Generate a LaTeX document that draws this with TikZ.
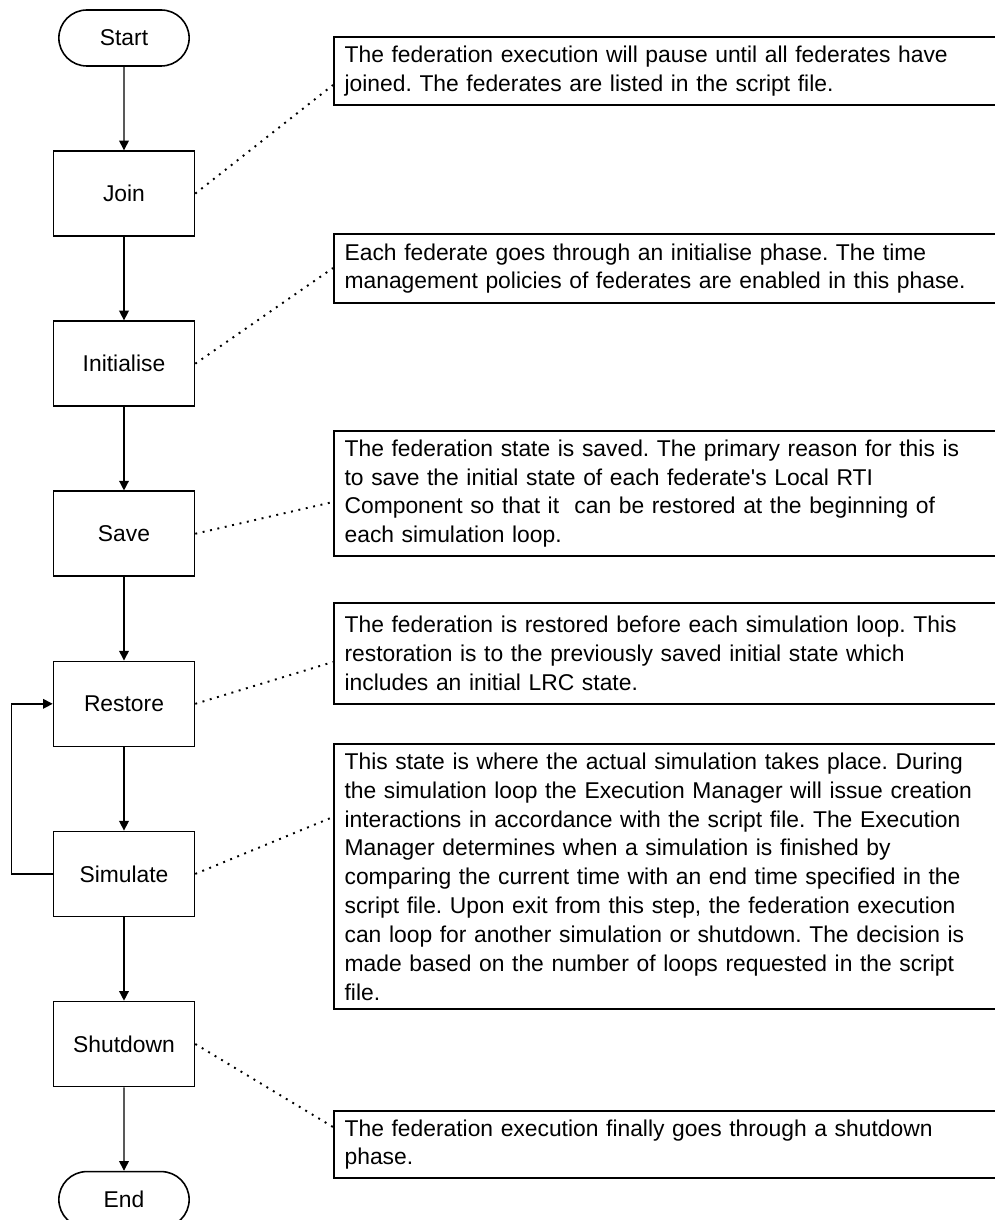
\documentclass[tikz,border=0pt]{standalone}
\usepackage{fontspec}
\setmainfont{Liberation Sans}
\frenchspacing
\usetikzlibrary{shapes.misc,arrows.meta,positioning,calc}
\tikzset{
  basebox/.style={draw=black,line width=0.9pt,align=center,
                  font=\fontsize{13}{16.4}\selectfont},
  stepbox/.style={basebox,rectangle,minimum width=2.82cm,minimum height=1.7cm},
  termbox/.style={basebox,rounded rectangle,minimum width=2.84cm,minimum height=1.12cm},
  notebox/.style={rectangle,draw=black,line width=1.2pt,anchor=north west,
                  align=left,text width=13.2cm,inner xsep=6pt,
                  font=\fontsize{13}{16.4}\selectfont},
  arr/.style={-{Triangle[length=5.5pt,width=5.5pt]},line width=0.8pt},
  dotarr/.style={line width=1.1pt,dash pattern=on 1.1pt off 3.2pt}
}
\begin{document}
\begin{tikzpicture}[node distance=1.67cm]
  \clip (0,0) rectangle (19.9,-24.4);

  \node[termbox] (start) at (2.48,-0.76) {Start};
  \node[stepbox, below=of start] (join) {Join};
  \node[stepbox, below=of join] (init) {Initialise};
  \node[stepbox, below=of init] (save) {Save};
  \node[stepbox, below=of save] (rest) {Restore};
  \node[stepbox, below=of rest] (sim) {Simulate};
  \node[stepbox, below=of sim] (shut) {Shutdown};
  \node[termbox, below=of shut] (end) {End};

  % notes on the right, cut by the page edge
  \node[notebox,minimum height=1.36cm] (njoin) at (6.66,-0.72)
      {The federation execution will pause until all federates have\\
       joined. The federates are listed in the script file.};
  \node[notebox,minimum height=1.38cm] (ninit) at (6.66,-4.66)
      {Each federate goes through an initialise phase. The time\\
       management policies of federates are enabled in this phase.};
  \node[notebox,minimum height=2.5cm] (nsave) at (6.66,-8.6)
      {The federation state is saved. The primary reason for this is\\
       to save the initial state of each federate\textquotesingle s Local RTI\\
       Component so that it\ \ can be restored at the beginning of\\
       each simulation loop.};
  \node[notebox,minimum height=2.02cm] (nrest) at (6.66,-12.04)
      {The federation is restored before each simulation loop. This\\
       restoration is to the previously saved initial state which\\
       includes an initial LRC state.};
  \node[notebox,minimum height=5.3cm] (nsim) at (6.66,-14.86)
      {This state is where the actual simulation takes place. During\\
       the simulation loop the Execution Manager will issue creation\\
       interactions in accordance with the script file. The Execution\\
       Manager determines when a simulation is finished by\\
       comparing the current time with an end time specified in the\\
       script file. Upon exit from this step, the federation execution\\
       can loop for another simulation or shutdown. The decision is\\
       made based on the number of loops requested in the script\\
       file.};
  \node[notebox,minimum height=1.34cm] (nshut) at (6.66,-22.2)
      {The federation execution finally goes through a shutdown\\
       phase.};

  \draw[arr] (start) -- (join);
  \draw[arr] (join) -- (init);
  \draw[arr] (init) -- (save);
  \draw[arr] (save) -- (rest);
  \draw[arr] (rest) -- (sim);
  \draw[arr] (sim) -- (shut);
  \draw[arr] (shut) -- (end);
  \draw[arr] (sim.west) -- ++(-0.82,0) |- (rest.west);

  \draw[dotarr] (join.east) -- ($(njoin.north west)+(0,-0.98)$);
  \draw[dotarr] (init.east) -- ($(ninit.north west)+(0,-0.70)$);
  \draw[dotarr] (save.east) -- ($(nsave.north west)+(0,-1.44)$);
  \draw[dotarr] (rest.east) -- ($(nrest.north west)+(0,-1.20)$);
  \draw[dotarr] (sim.east) -- ($(nsim.north west)+(0,-1.48)$);
  \draw[dotarr] (shut.east) -- ($(nshut.north west)+(0,-0.34)$);

\end{tikzpicture}
\end{document}
